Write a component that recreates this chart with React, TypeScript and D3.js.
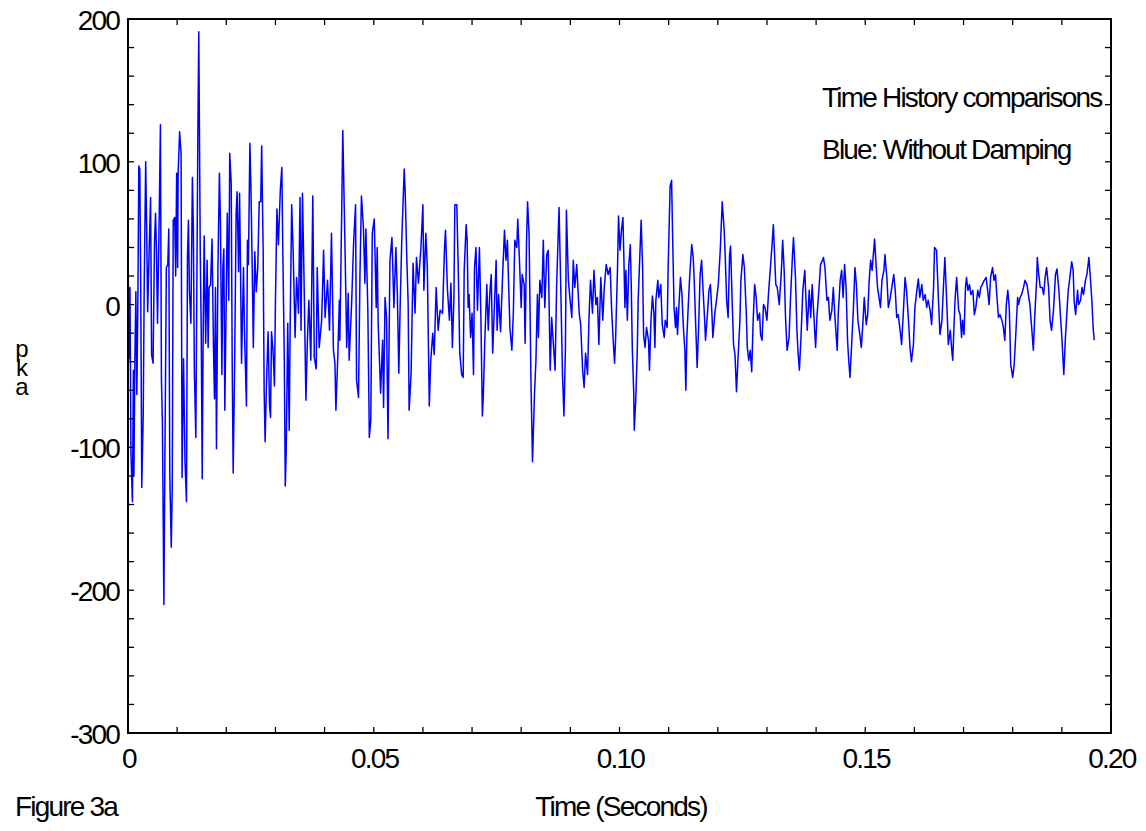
import React from "react";
import * as d3 from "d3";

// Pressure time history: [time (s), pressure]
const samples: [number, number][] = [
  [0.0000,50],[0.0002,-38],[0.0004,12],[0.0006,-104],[0.0009,-138],[0.0011,-46],[0.0012,-120],[0.0014,-38],[0.0016,9],[0.0018,-63],
  [0.0020,-2],[0.0022,97],[0.0024,95],[0.0026,9],[0.0028,-128],[0.0031,-77],[0.0033,14],[0.0036,100],[0.0038,53],[0.0040,-5],
  [0.0043,37],[0.0046,75],[0.0048,-35],[0.0051,-41],[0.0054,45],[0.0056,64],[0.0058,37],[0.0060,-13],[0.0063,50],[0.0066,126],
  [0.0068,-52],[0.0070,-82],[0.0073,-210],[0.0075,-112],[0.0078,26],[0.0081,28],[0.0083,53],[0.0085,-118],[0.0088,-170],[0.0090,-129],
  [0.0092,59],[0.0095,61],[0.0097,20],[0.0099,92],[0.0101,26],[0.0102,92],[0.0105,121],[0.0108,106],[0.0110,-121],[0.0113,-38],
  [0.0116,-110],[0.0119,-138],[0.0121,34],[0.0123,59],[0.0125,9],[0.0128,-13],[0.0131,89],[0.0133,53],[0.0135,-46],[0.0138,-93],
  [0.0140,9],[0.0142,114],[0.0144,191],[0.0147,37],[0.0149,-19],[0.0151,-122],[0.0153,-16],[0.0155,48],[0.0158,-27],[0.0161,31],
  [0.0163,-30],[0.0165,12],[0.0168,14],[0.0171,46],[0.0174,-32],[0.0176,-66],[0.0178,12],[0.0180,-101],[0.0183,26],[0.0186,92],
  [0.0188,59],[0.0191,-49],[0.0193,26],[0.0195,39],[0.0197,-74],[0.0200,9],[0.0202,64],[0.0205,3],[0.0207,106],[0.0210,85],
  [0.0212,-41],[0.0214,-118],[0.0217,-41],[0.0220,64],[0.0222,79],[0.0225,23],[0.0227,78],[0.0229,23],[0.0231,-41],[0.0235,26],
  [0.0237,-19],[0.0241,-71],[0.0243,45],[0.0245,28],[0.0248,113],[0.0250,84],[0.0253,20],[0.0255,-30],[0.0258,37],[0.0261,9],
  [0.0264,26],[0.0267,72],[0.0270,72],[0.0272,111],[0.0275,37],[0.0277,-60],[0.0279,-96],[0.0282,-52],[0.0285,-19],[0.0288,-71],
  [0.0290,-79],[0.0292,-19],[0.0295,-32],[0.0298,-57],[0.0300,3],[0.0303,67],[0.0306,42],[0.0310,81],[0.0313,96],[0.0315,37],
  [0.0318,-38],[0.0320,-127],[0.0322,-101],[0.0325,-13],[0.0328,-88],[0.0330,-13],[0.0333,70],[0.0336,37],
  [0.0340,-23],[0.0343,19],[0.0347,-6],[0.0350,75],[0.0352,-18],[0.0355,78],[0.0358,21],[0.0362,-67],[0.0365,-25],[0.0368,3],
  [0.0372,-39],[0.0376,76],[0.0379,-37],[0.0383,-45],[0.0385,26],[0.0389,-30],[0.0394,-11],[0.0398,38],[0.0401,-9],[0.0406,17],
  [0.0410,-18],[0.0414,50],[0.0418,-32],[0.0421,-41],[0.0423,-74],[0.0427,-35],[0.0430,3],[0.0431,-25],[0.0435,70],[0.0437,122],
  [0.0442,31],[0.0445,-30],[0.0448,8],[0.0450,-39],[0.0455,1],[0.0459,43],[0.0463,70],[0.0465,-53],[0.0469,-65],[0.0472,22],
  [0.0475,76],[0.0479,54],[0.0482,15],[0.0484,53],[0.0488,-4],[0.0491,-93],[0.0494,-81],[0.0497,50],[0.0501,60],[0.0505,-2],
  [0.0507,40],[0.0509,-13],[0.0514,-62],[0.0518,-25],[0.0520,-72],[0.0523,5],[0.0526,-9],[0.0529,-94],[0.0533,31],[0.0537,47],
  [0.0541,-2],[0.0545,40],[0.0548,8],[0.0551,-48],[0.0554,3],[0.0557,45],[0.0562,95],[0.0564,78],[0.0567,36],[0.0570,1],
  [0.0572,-74],[0.0576,-48],[0.0580,29],[0.0584,-6],[0.0587,33],[0.0591,15],[0.0596,40],[0.0600,70],[0.0602,10],[0.0606,50],
  [0.0609,26],[0.0613,-71],[0.0616,-39],[0.0620,-20],[0.0623,-35],[0.0627,12],[0.0631,-18],[0.0635,-4],[0.0640,-6],[0.0644,40],
  [0.0646,52],[0.0650,10],[0.0654,-11],[0.0657,15],[0.0660,-30],[0.0663,3],
  [0.0665,70],[0.0669,70],[0.0672,24],[0.0675,-34],[0.0679,-49],[0.0682,-51],[0.0684,24],[0.0688,56],[0.0690,45],[0.0692,-2],
  [0.0694,7],[0.0697,-23],[0.0700,-6],[0.0703,-49],[0.0705,26],[0.0708,40],[0.0711,-4],[0.0715,40],[0.0718,-9],[0.0721,-78],
  [0.0723,-63],[0.0726,-25],[0.0730,14],[0.0733,-18],[0.0736,7],[0.0739,21],[0.0742,-34],[0.0745,-6],[0.0749,31],[0.0751,-18],
  [0.0754,7],[0.0758,-19],[0.0762,19],[0.0766,52],[0.0769,31],[0.0772,45],[0.0774,19],[0.0777,-16],[0.0781,-32],[0.0784,-6],
  [0.0787,45],[0.0791,40],[0.0793,60],[0.0796,35],[0.0800,-2],[0.0802,21],[0.0806,14],[0.0808,-27],[0.0811,47],[0.0813,72],
  [0.0816,49],[0.0820,-56],[0.0823,-110],[0.0827,-63],[0.0830,-39],[0.0833,7],[0.0835,-23],[0.0838,17],[0.0842,5],[0.0845,45],
  [0.0848,-2],[0.0852,35],[0.0855,38],[0.0859,-46],[0.0862,-9],[0.0865,-25],[0.0869,-46],[0.0872,12],[0.0877,68],[0.0881,3],
  [0.0884,-49],[0.0887,-78],[0.0890,-30],[0.0892,66],[0.0896,17],[0.0899,5],[0.0903,-9],[0.0906,31],[0.0909,12],[0.0913,28],
  [0.0918,-6],[0.0921,-14],[0.0925,-46],[0.0928,-58],[0.0931,-34],[0.0935,-49],[0.0938,-9],[0.0941,17],[0.0945,-6],[0.0948,24],
  [0.0952,0],[0.0955,5],[0.0958,-28],[0.0962,19],[0.0966,-11],[0.0969,12],[0.0973,28],[0.0977,21],[0.0981,26],[0.0984,-4],
  [0.0988,-30],[0.0990,-41],
  [0.0992,-25],[0.0996,26],[0.0998,62],[0.1001,38],[0.1004,52],[0.1007,61],[0.1009,31],[0.1011,-2],[0.1013,24],[0.1016,-11],
  [0.1019,28],[0.1022,42],[0.1024,12],[0.1026,-30],[0.1029,-62],[0.1030,-88],[0.1033,-67],[0.1036,-35],[0.1038,3],[0.1042,40],
  [0.1044,59],[0.1047,26],[0.1049,-21],[0.1052,-30],[0.1055,-16],[0.1059,-25],[0.1061,-46],[0.1064,-11],[0.1067,6],[0.1070,-6],
  [0.1072,-30],[0.1074,3],[0.1078,17],[0.1080,5],[0.1084,14],[0.1087,-14],[0.1091,-23],[0.1093,-11],[0.1097,-16],[0.1099,26],
  [0.1103,83],[0.1106,87],[0.1108,49],[0.1111,-2],[0.1114,-16],[0.1116,-2],[0.1118,-21],[0.1121,0],[0.1124,19],[0.1127,7],
  [0.1130,-16],[0.1133,-32],[0.1135,-60],[0.1137,-23],[0.1140,0],[0.1143,21],[0.1147,42],[0.1150,33],[0.1152,17],[0.1155,-14],
  [0.1158,-44],[0.1161,-16],[0.1164,21],[0.1167,31],[0.1170,10],[0.1173,-9],[0.1175,-25],[0.1179,-6],[0.1182,10],[0.1185,14],
  [0.1188,-6],[0.1190,-23],[0.1194,-6],[0.1198,5],[0.1201,14],[0.1205,38],[0.1209,72],[0.1213,52],[0.1215,35],[0.1218,3],
  [0.1221,-9],[0.1224,35],[0.1226,41],[0.1229,5],[0.1232,-28],[0.1235,-35],[0.1238,-61],[0.1241,-39],[0.1245,-11],[0.1247,17],
  [0.1251,35],[0.1254,26],[0.1258,-6],[0.1260,-30],[0.1263,-39],[0.1266,-32],[0.1269,-47],[0.1272,-11],[0.1275,14],[0.1278,5],
  [0.1281,-11],[0.1285,-6],[0.1287,-21],[0.1290,-25],[0.1293,0],[0.1296,-2],[0.1300,-11],[0.1303,7],[0.1306,21],[0.1310,40],
  [0.1313,56],
  [0.1318,14],[0.1321,12],[0.1325,0],[0.1329,21],[0.1332,45],[0.1335,24],[0.1338,-11],[0.1341,-32],[0.1345,-23],[0.1348,5],
  [0.1352,35],[0.1354,47],[0.1358,19],[0.1361,-18],[0.1363,-32],[0.1366,-46],[0.1369,-25],[0.1373,10],[0.1377,24],[0.1380,-2],
  [0.1382,-18],[0.1386,10],[0.1389,-9],[0.1392,14],[0.1396,-11],[0.1399,-30],[0.1402,-7],[0.1406,12],[0.1409,28],[0.1413,31],
  [0.1415,33],[0.1418,26],[0.1422,3],[0.1425,5],[0.1428,-11],[0.1432,-4],[0.1435,12],[0.1438,-7],[0.1443,-32],[0.1445,-7],
  [0.1449,17],[0.1452,24],[0.1455,5],[0.1458,28],[0.1461,12],[0.1464,-25],[0.1466,-37],[0.1469,-51],[0.1472,-30],[0.1476,-2],
  [0.1479,26],[0.1482,14],[0.1485,-11],[0.1489,-21],[0.1492,-30],[0.1495,-14],[0.1498,5],[0.1502,-14],[0.1505,-7],[0.1508,17],
  [0.1511,31],[0.1514,24],[0.1519,46],[0.1522,28],[0.1525,12],[0.1528,5],[0.1531,-2],[0.1534,17],[0.1538,24],[0.1540,35],
  [0.1544,19],[0.1547,-2],[0.1550,3],[0.1554,12],[0.1558,21],[0.1561,10],[0.1564,-9],[0.1567,-7],[0.1571,-18],[0.1574,-28],
  [0.1578,-2],[0.1581,19],[0.1584,10],[0.1588,-11],[0.1591,-30],[0.1594,-40],[0.1598,-28],[0.1601,-2],[0.1605,10],[0.1608,18],
  [0.1611,5],[0.1615,14],[0.1618,3],[0.1622,7],[0.1625,-2],[0.1628,3],[0.1632,-4],[0.1635,-14],[0.1639,12],[0.1641,40],
  [0.1645,38],[0.1649,3],[0.1652,-21],[0.1656,-11],[0.1659,12],[0.1662,33],[0.1666,0],[0.1669,-28],[0.1673,-18],[0.1676,-32],
  [0.1678,-39],[0.1681,-11],[0.1683,5],[0.1686,19],[0.1690,-4],[0.1693,-7],[0.1696,-23],[0.1698,-11],[0.1701,-21],[0.1704,12],
  [0.1706,19],[0.1709,10],[0.1712,14],[0.1715,7],[0.1719,10],[0.1722,-7],[0.1725,-2],[0.1729,10],[0.1732,5],[0.1735,12],
  [0.1738,14],[0.1742,17],[0.1746,19],[0.1749,10],[0.1752,0],[0.1755,19],[0.1759,26],[0.1762,17],[0.1765,21],[0.1768,5],
  [0.1771,-9],[0.1774,-7],[0.1778,-11],[0.1781,-16],[0.1784,-25],[0.1787,0],[0.1790,10],[0.1793,-2],[0.1796,-42],[0.1800,-51],
  [0.1803,-42],[0.1807,-16],[0.1810,5],[0.1812,0],[0.1815,5],[0.1818,7],[0.1822,12],[0.1825,17],[0.1829,14],[0.1832,7],
  [0.1835,0],[0.1839,-18],[0.1842,-32],[0.1845,-7],[0.1849,19],[0.1850,33],[0.1853,21],[0.1856,12],[0.1860,12],[0.1863,7],
  [0.1866,19],[0.1869,26],[0.1873,12],[0.1876,-11],[0.1879,-18],[0.1883,-4],[0.1887,21],[0.1890,25],[0.1894,10],[0.1897,-7],
  [0.1900,-23],[0.1904,-49],[0.1907,-25],[0.1910,-7],[0.1913,10],[0.1917,21],[0.1920,30],[0.1923,24],[0.1925,3],[0.1928,-7],
  [0.1932,10],[0.1934,0],[0.1938,3],[0.1941,12],[0.1944,7],[0.1948,17],[0.1951,21],[0.1955,33],[0.1958,19],[0.1961,3],
  [0.1964,-18],[0.1966,-25],
];

const xTickValues = [0, 0.05, 0.1, 0.15, 0.2];
const xTickLabels = ["0", "0.05", "0.10", "0.15", "0.20"];
const yTickValues = [200, 100, 0, -100, -200, -300];
const yTickLabels = ["200", "100", "0", "-100", "-200", "-300"];
const legendLines = ["Time History comparisons", "Blue: Without Damping"];
const xAxisTitle = "Time (Seconds)";
const figureLabel = "Figure 3a";
const yAxisLabel = "pka";

const FONT = "'Liberation Sans', Arial, Helvetica, sans-serif";

export default function App() {
  const W = 1146;
  const H = 831;
  const left = 128, right = 1111, top = 19, bottom = 733;
  const x = d3.scaleLinear().domain([0, 0.2]).range([left, right]);
  const y = d3.scaleLinear().domain([-300, 200]).range([bottom, top]);
  const minorX = d3.range(0, 21).map((i) => i * 0.01);
  const minorY = d3.range(0, 26).map((i) => -300 + i * 20);
  const tickLen = 6;

  const line = d3
    .line<[number, number]>()
    .x((d) => x(d[0]))
    .y((d) => y(d[1]));

  const textStyle = {
    fontFamily: FONT,
    fontSize: 28,
    letterSpacing: "-1.8px",
    fill: "#000",
  } as React.CSSProperties;

  return (
    <div style={{ position: "absolute", left: 0, top: 0 }}>
      <svg width={W} height={H} viewBox={`0 0 ${W} ${H}`} style={{ display: "block", background: "#fff" }}>
        <rect x={0} y={0} width={W} height={H} fill="#fff" />
        <defs>
          <clipPath id="plotClip">
            <rect x={left} y={top} width={right - left} height={bottom - top} />
          </clipPath>
        </defs>

        {/* data */}
        <path
          d={line(samples) || ""}
          fill="none"
          stroke="#0000ff"
          strokeWidth={1.5}
          strokeLinejoin="round"
          clipPath="url(#plotClip)"
        />

        {/* ticks */}
        <g stroke="#000" strokeWidth={1.3}>
          {minorX.map((t, i) => (
            <g key={"xt" + i}>
              <line x1={x(t)} x2={x(t)} y1={bottom} y2={bottom - tickLen} />
              <line x1={x(t)} x2={x(t)} y1={top} y2={top + tickLen} />
            </g>
          ))}
          {minorY.map((v, i) => (
            <g key={"yt" + i}>
              <line x1={left} x2={left + tickLen} y1={y(v)} y2={y(v)} />
              <line x1={right} x2={right - tickLen} y1={y(v)} y2={y(v)} />
            </g>
          ))}
        </g>

        {/* frame */}
        <rect
          x={left}
          y={top}
          width={right - left}
          height={bottom - top}
          fill="none"
          stroke="#000"
          strokeWidth={2}
        />

        {/* y tick labels */}
        {yTickValues.map((v, i) => (
          <text key={"yl" + i} x={119} y={y(v) + 11} textAnchor="end" style={textStyle}>
            {yTickLabels[i]}
          </text>
        ))}

        {/* x tick labels */}
        {xTickValues.map((v, i) => (
          <text key={"xl" + i} x={x(v) + 1} y={768} textAnchor="middle" style={textStyle}>
            {xTickLabels[i]}
          </text>
        ))}

        {/* legend text */}
        <text x={822} y={107} style={textStyle}>{legendLines[0]}</text>
        <text x={822} y={159} style={textStyle}>{legendLines[1]}</text>

        {/* bottom texts */}
        <text x={15} y={816} style={textStyle}>{figureLabel}</text>
        <text x={621} y={816} textAnchor="middle" style={textStyle}>{xAxisTitle}</text>

        {/* stacked y-axis label, upright vertical text */}
        <text
          x={22}
          y={335}
          style={{
            fontFamily: FONT,
            fontSize: 24,
            fill: "#000",
            writingMode: "vertical-lr",
            textOrientation: "upright",
            letterSpacing: "-8px",
          } as React.CSSProperties}
        >
          {yAxisLabel}
        </text>
      </svg>
    </div>
  );
}
